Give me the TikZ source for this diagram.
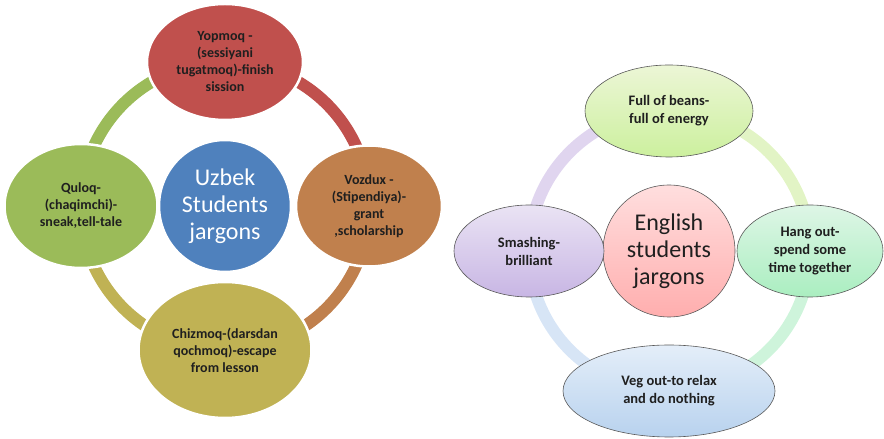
\documentclass[tikz,border=0pt]{standalone}
\usepackage{fontspec}
\setmainfont{Carlito}
\usetikzlibrary{shapes.geometric, backgrounds}
\definecolor{uzred}{RGB}{192,80,77}
\definecolor{uzorange}{RGB}{192,128,77}
\definecolor{uzolive}{RGB}{192,178,84}
\definecolor{uzgreen}{RGB}{155,187,89}
\definecolor{uzblue}{RGB}{79,129,189}
\definecolor{enlimeA}{RGB}{236,246,214}
\definecolor{enlimeB}{RGB}{204,240,158}
\definecolor{enmintA}{RGB}{222,246,230}
\definecolor{enmintB}{RGB}{170,238,192}
\definecolor{enblueA}{RGB}{228,238,249}
\definecolor{enblueB}{RGB}{184,210,238}
\definecolor{enlilacA}{RGB}{234,227,244}
\definecolor{enlilacB}{RGB}{200,182,228}
\definecolor{enpinkA}{RGB}{255,222,222}
\definecolor{enpinkB}{RGB}{255,174,174}
\tikzset{
	jargon/.cd,
	uzleaf/.style = {
		ellipse,
		draw = white,
		line width = 2.5pt,
		inner sep = 0pt,
		align = center,
		text = black!88,
		font = \bfseries\fontsize{14}{17}\selectfont
	},
	enleaf/.style = {
		ellipse,
		draw = black!65,
		line width = 0.6pt,
		inner sep = 0pt,
		align = center,
		text = black!88,
		shading = axis,
		shading angle = 0,
		font = \bfseries\fontsize{14.5}{18}\selectfont
	},
	hub/.style = {
		circle,
		inner sep = 0pt,
		minimum size = 132pt,
		align = center,
		font = \fontsize{24}{27}\selectfont
	},
	ring/.style = {
		line width = 12pt
	},
}

\begin{document}
\begin{tikzpicture}[x = 1pt, y = 1pt]
		\useasboundingbox (0, 0) rectangle (884, 439);
		% Uzbek cycle
		\node[jargon/hub, fill = uzblue, draw = white, line width = 2.5pt, text = white] (uzbek) at (225, 233) {Uzbek\\Students\\jargons};
		\node[jargon/uzleaf, fill = uzred, minimum width = 156pt, minimum height = 116pt] (yopmoq) at (225, 377) {Yopmoq -\\(sessiyani\\tugatmoq)-finish\\sission};
		\node[jargon/uzleaf, fill = uzorange, minimum width = 146pt, minimum height = 121pt] (vozdux) at (369, 233) {Vozdux -\\(Stipendiya)-\\grant\\,scholarship};
		\node[jargon/uzleaf, fill = uzolive, minimum width = 173pt, minimum height = 136pt] (chizmoq) at (225, 89) {Chizmoq-(darsdan\\qochmoq)-escape\\from lesson};
		\node[jargon/uzleaf, fill = uzgreen, minimum width = 153pt, minimum height = 124pt] (quloq) at (81, 233) {Quloq-\\(chaqimchi)-\\sneak,tell-tale};
		\begin{scope}[on background layer = {jargon/ring}]
			\draw[uzred] (yopmoq.center) to[out = 0, in = 90] (vozdux.center);
			\draw[uzorange] (vozdux.center) to[out = -90, in = 0] (chizmoq.center);
			\draw[uzolive] (chizmoq.center) to[out = 180, in = -90] (quloq.center);
			\draw[uzgreen] (quloq.center) to[out = 90, in = 180] (yopmoq.center);
		\end{scope}
		% English cycle
		\node[jargon/hub, draw = black!65, line width = 0.6pt, shading = axis, top color = enpinkA, bottom color = enpinkB, text = black!88] (english) at (669, 188) {English\\students\\jargons};
		\node[jargon/enleaf, top color = enlimeA, bottom color = enlimeB, minimum width = 168pt, minimum height = 92pt] (beans) at (669, 328) {Full of beans-\\full of energy};
		\node[jargon/enleaf, top color = enmintA, bottom color = enmintB, minimum width = 146pt, minimum height = 92pt] (hangout) at (810, 188) {Hang out-\\spend some\\time together};
		\node[jargon/enleaf, top color = enblueA, bottom color = enblueB, minimum width = 212pt, minimum height = 92pt] (vegout) at (669, 48) {Veg out-to relax\\and do nothing};
		\node[jargon/enleaf, top color = enlilacA, bottom color = enlilacB, minimum width = 150pt, minimum height = 92pt] (smashing) at (529, 188) {Smashing-\\brilliant};
		\begin{scope}[on background layer = {jargon/ring}]
			\draw[enlimeA!70!enlimeB] (beans.center) to[out = 0, in = 90] (hangout.center);
			\draw[enmintA!70!enmintB] (hangout.center) to[out = -90, in = 0] (vegout.center);
			\draw[enblueA!70!enblueB] (vegout.center) to[out = 180, in = -90] (smashing.center);
			\draw[enlilacA!70!enlilacB] (smashing.center) to[out = 90, in = 180] (beans.center);
		\end{scope}
	\end{tikzpicture}
\end{document}
